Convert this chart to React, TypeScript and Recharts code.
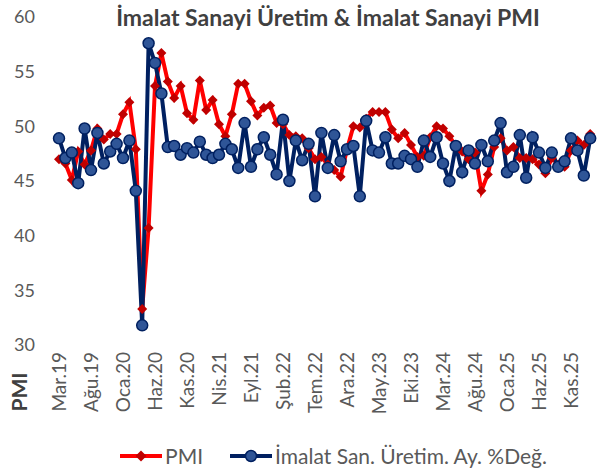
import React from "react";
import { LineChart, Line, XAxis, YAxis } from "recharts";

const tickLabels = [
  "Mar.19", "Ağu.19", "Oca.20", "Haz.20", "Kas.20", "Nis.21", "Eyl.21", "Şub.22", "Tem.22",
  "Ara.22", "May.23", "Eki.23", "Mar.24", "Ağu.24", "Oca.25", "Haz.25", "Kas.25",
];

// monthly, Mar.19 .. Şub.26
const pmi = [
  47.0, 46.6, 45.1, 47.7, 46.5, 47.8, 49.8, 48.8, 49.3, 49.3, 51.1, 52.2,
  47.9, 33.3, 40.7, 53.7, 56.7, 54.1, 52.6, 53.7, 51.2, 50.6, 54.2, 51.5,
  52.4, 50.2, 49.1, 51.1, 53.9, 53.9, 52.3, 51.0, 51.7, 51.9, 50.3, 50.2,
  49.2, 49.1, 48.9, 48.0, 47.0, 47.2, 46.5, 46.0, 45.4, 47.9, 50.0, 49.9,
  50.7, 51.3, 51.3, 51.3, 49.7, 48.9, 49.4, 48.3, 47.2, 47.3, 49.0, 50.0,
  49.8, 49.1, 48.2, 47.7, 47.0, 47.6, 44.1, 45.6, 48.1, 48.9, 47.8, 48.1,
  47.1, 47.1, 47.0, 46.5, 45.7, 47.1, 46.5, 46.3, 47.8, 48.7, 48.3, 49.3,
];

const uretim = [
  48.9, 47.1, 47.6, 44.8, 49.8, 46.0, 49.4, 46.6, 47.7, 48.4, 47.1, 48.7,
  44.1, 31.8, 57.6, 55.8, 53.0, 48.1, 48.2, 47.4, 48.0, 47.6, 48.6, 47.4,
  47.1, 47.4, 48.4, 47.9, 46.2, 50.3, 46.3, 47.9, 49.0, 47.4, 45.6, 50.6,
  45.0, 48.7, 46.9, 48.4, 43.6, 49.4, 46.2, 49.2, 46.8, 47.9, 48.2, 43.6,
  50.5, 47.8, 47.6, 49.0, 46.6, 46.6, 47.3, 47.0, 46.3, 48.7, 47.2, 49.0,
  46.6, 45.0, 48.2, 45.8, 47.8, 46.6, 48.3, 46.8, 48.7, 50.3, 45.8, 46.3,
  49.2, 45.3, 49.0, 47.6, 46.2, 47.6, 46.3, 46.8, 48.9, 47.8, 45.5, 48.9,
];

const rows = pmi.map((v, i) => ({ i, pmi: v, uretim: uretim[i] }));
const xTicks = tickLabels.map((_, k) => k * 5);

const font = "Lato, 'Open Sans', sans-serif";

const Diamond = (props: any) => {
  const { cx, cy } = props;
  if (cx == null || cy == null) return null;
  const s = 5;
  return (
    <polygon
      points={`${cx},${cy - s} ${cx + s},${cy} ${cx},${cy + s} ${cx - s},${cy}`}
      fill="#C00000"
    />
  );
};

const XTick = (props: any) => {
  const { x, y, payload } = props;
  const label = tickLabels[Math.round(payload.value / 5)];
  return (
    <text
      x={x}
      y={y}
      dy="0.35em"
      transform={`rotate(-90 ${x} ${y})`}
      textAnchor="end"
      fill="#595959"
      fontSize={19}
      fontFamily={font}
    >
      {label}
    </text>
  );
};

const LegendItem = ({ color, marker, text }: { color: string; marker: "diamond" | "circle"; text: string }) => (
  <div style={{ display: "flex", alignItems: "center" }}>
    <svg width={44} height={14}>
      <line x1={1} y1={7} x2={43} y2={7} stroke={color} strokeWidth={4} />
      {marker === "diamond" ? (
        <polygon points="22,1.5 27.5,7 22,12.5 16.5,7" fill="#C00000" />
      ) : (
        <circle cx={22} cy={7} r={5.5} fill="#2F5597" stroke="#002060" strokeWidth={1.5} />
      )}
    </svg>
    <span style={{ marginLeft: 2 }}>{text}</span>
  </div>
);

const App = () => {
  return (
    <div style={{ position: "absolute", left: 0, top: 0, width: 611, height: 468, background: "#fff", fontFamily: font, overflow: "hidden" }}>
      <div
        style={{
          position: "absolute",
          top: 3,
          left: 0,
          width: 656,
          textAlign: "center",
          fontWeight: 700,
          fontSize: 23,
          color: "#404040",
          lineHeight: "28px",
        }}
      >
        İmalat Sanayi Üretim &amp; İmalat Sanayi PMI
      </div>
      <div
        style={{
          position: "absolute",
          left: 18,
          top: 392,
          transform: "translate(-50%, -50%) rotate(-90deg)",
          fontWeight: 700,
          fontSize: 21,
          color: "#404040",
        }}
      >
        PMI
      </div>
      <LineChart width={611} height={468} data={rows} margin={{ top: 17, right: 8, left: 0, bottom: 0 }}>
        <XAxis
          dataKey="i"
          type="number"
          domain={[-2.5, 85]}
          allowDataOverflow
          ticks={xTicks}
          interval={0}
          height={123}
          axisLine={false}
          tickLine={false}
          tickSize={0}
          tickMargin={7}
          tick={<XTick />}
        />
        <YAxis
          domain={[30, 60]}
          ticks={[30, 35, 40, 45, 50, 55, 60]}
          width={43}
          axisLine={false}
          tickLine={false}
          tickSize={0}
          tickMargin={8}
          tick={{ fill: "#595959", fontSize: 18, fontFamily: font }}
        />
        <Line
          dataKey="pmi"
          stroke="#FF0000"
          strokeWidth={4}
          dot={<Diamond />}
          activeDot={false}
          isAnimationActive={false}
        />
        <Line
          dataKey="uretim"
          stroke="#002060"
          strokeWidth={4}
          dot={{ r: 5.5, fill: "#2F5597", stroke: "#002060", strokeWidth: 1.5 }}
          activeDot={false}
          isAnimationActive={false}
        />
      </LineChart>
      <div
        style={{
          position: "absolute",
          top: 445,
          left: 0,
          width: 666,
          display: "flex",
          justifyContent: "center",
          alignItems: "center",
          gap: 26,
          fontSize: 21,
          color: "#595959",
          lineHeight: "20px",
          height: 22,
        }}
      >
        <LegendItem color="#FF0000" marker="diamond" text="PMI" />
        <LegendItem color="#002060" marker="circle" text="İmalat San. Üretim. Ay. %Değ." />
      </div>
    </div>
  );
};

export default App;
